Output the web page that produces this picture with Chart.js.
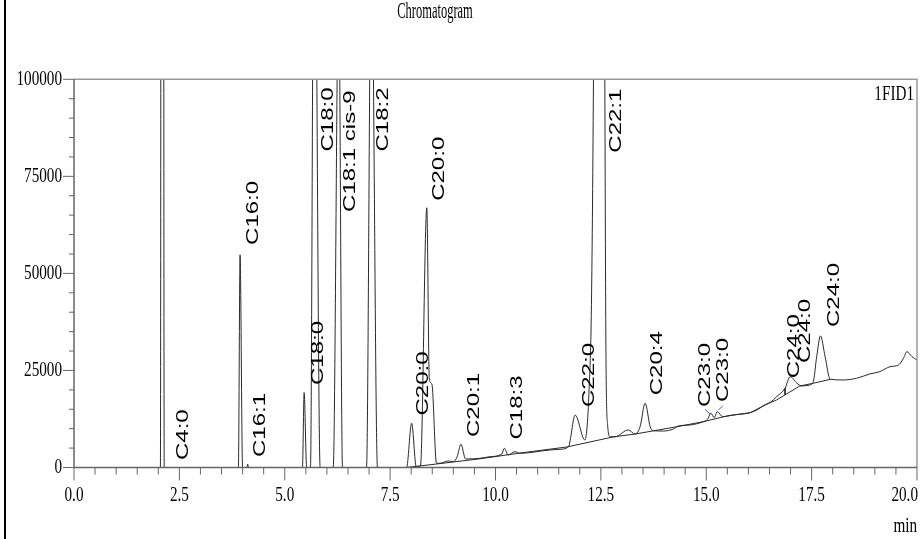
<!DOCTYPE html>
<html lang="en">
<head>
    <meta charset="UTF-8">
    <title>Chromatogram</title>
    <script src="https://cdn.jsdelivr.net/npm/chart.js@4"></script>
    <style>
        html, body { margin: 0; padding: 0; background: #fff; }
        .chart-box { position: relative; width: 921px; height: 539px; }
    </style>
</head>
<body>
    <div class="chart-box">
        <canvas id="chromChart" width="921" height="539"></canvas>
    </div>

    <script>
        // FID1 trace: retention time (min) and detector signal
        const traceTime = [
            0, 2.05, 2.095, 2.14, 3.90, 3.94, 4.00, 4.10, 4.12, 4.14,
            5.42, 5.46, 5.52, 5.61, 5.70, 5.84, 6.15, 6.28, 6.37,
            6.94, 7.055, 7.20, 7.89, 8.01, 8.12, 8.22, 8.37, 8.43, 8.49, 8.60,
            8.68, 8.88, 9.00, 9.09, 9.18, 9.29, 9.63, 9.87,
            10.15, 10.21, 10.30, 10.46, 10.58, 11.29, 11.53, 11.73, 11.89, 12.12,
            12.22, 12.28, 12.33, 12.46, 12.59, 12.62, 12.66, 12.72, 12.83,
            13.15, 13.31, 13.43, 13.55, 13.67, 13.74, 13.98, 14.22, 14.34, 14.61,
            14.93, 15.03, 15.11, 15.19, 15.26, 15.39, 15.64, 16.04, 16.20, 16.39,
            16.51, 16.67, 16.87, 16.99, 17.15, 17.26, 17.46, 17.54, 17.62, 17.71,
            17.82, 17.94, 18.25, 18.57, 18.88, 19.12, 19.36, 19.56, 19.68, 19.76,
            19.88, 20.0
        ];
        const traceSignal = [
            0, 0, 900000, 0, 0, 54800, 0, 0, 900, 0,
            0, 19300, 0, 0, 170000, 0, 0, 125000, 0,
            0, 138000, 0, 0, 11400, 200, 400, 66900, 22800, 21500, 1100,
            1080, 1680, 1500, 2780, 5980, 2190, 2370, 2780,
            3480, 4950, 3220, 4070, 3660, 4510, 4690, 5360, 13500, 7090,
            20000, 45000, 110000, 400000, 110000, 30000, 11000, 7900, 7900,
            9660, 8630, 10500, 16540, 10500, 9480, 9400, 9920, 10700, 10950,
            11800, 12400, 13970, 12830, 14380, 13090, 13530, 14120, 14820, 16100,
            16700, 18250, 20400, 23400, 21700, 21000, 21260, 22100, 28550, 33900,
            28550, 22730, 22550, 22990, 24100, 24700, 25970, 26400, 28140, 29840,
            28550, 27700
        ];

        // integration baseline
        const baseTime = [7.88, 8.60, 9.60, 10.60, 11.70, 12.80, 13.30, 13.75, 14.30,
            14.93, 15.50, 16.04, 16.43, 16.67, 16.99, 17.22, 17.54, 17.94];
        const baseSignal = [0, 900, 2200, 3750, 5300, 7900, 8600, 9450, 10500,
            11800, 13300, 14100, 16300, 17400, 19500, 21000, 21700, 22700];

        // drop line under the fronting C24:0 peak
        const dropTime = [16.87, 16.87];
        const dropSignal = [20400, 18700];

        // blue split marks between the two C23:0 peaks
        const markTime = [14.97, 15.09, null, 15.29, 15.39];
        const markSignal = [15000, 13790, null, 14820, 15850];

        // peak names, their retention time and the level the name starts at
        const peakNames = ['C4:0', 'C16:0', 'C16:1', 'C18:0', 'C18:0', 'C18:1 cis-9', 'C18:2',
            'C20:0', 'C20:0', 'C20:1', 'C18:3', 'C22:0', 'C22:1', 'C20:4',
            'C23:0', 'C23:0', 'C24:0', 'C24:0', 'C24:0'];
        const peakTimes = [2.59, 4.25, 4.41, 5.79, 6.03, 6.55, 7.35,
            8.30, 8.66, 9.49, 10.51, 12.22, 12.86, 13.83,
            14.97, 15.40, 17.08, 17.34, 18.03];
        const labelLevels = [1930, 57340, 2700, 21260, 81400, 65840, 81400,
            13400, 68700, 7860, 7220, 15590, 81100, 18600,
            15590, 16880, 23000, 26930, 36200];

        const xTickLabels = ['0.0', '2.5', '5.0', '7.5', '10.0', '12.5', '15.0', '17.5', '20.0'];
        const yTickLabels = ['0', '25000', '50000', '75000', '100000'];

        function pairs(xs, ys) {
            return xs.map((x, i) => (x === null ? { x: NaN, y: NaN } : { x: x, y: ys[i] }));
        }

        // narrow text, like the printed report fonts
        function narrowText(ctx, text, x, y, o) {
            ctx.save();
            ctx.translate(x, y);
            ctx.scale(o.squeeze, 1);
            if (o.rotate) ctx.rotate(-Math.PI / 2);
            ctx.font = o.font;
            ctx.textAlign = o.align;
            ctx.textBaseline = o.baseline;
            ctx.fillStyle = o.color || '#000';
            ctx.fillText(text, 0, 0);
            ctx.restore();
        }

        const tickFont = '22px "Liberation Serif"';

        const reportFrame = {
            id: 'reportFrame',
            afterDraw(chart) {
                const ctx = chart.ctx;
                const area = chart.chartArea;
                const xs = chart.scales.x;
                const ys = chart.scales.y;

                ctx.save();
                // page edge on the left
                ctx.fillStyle = '#000';
                ctx.fillRect(4, 0, 2, chart.height);

                // plot box
                ctx.lineWidth = 1.5;
                ctx.strokeStyle = '#9a9a9a';
                ctx.beginPath();
                ctx.moveTo(area.left, area.top);
                ctx.lineTo(area.right, area.top);
                ctx.lineTo(area.right, area.bottom);
                ctx.stroke();
                ctx.strokeStyle = '#666';
                ctx.beginPath();
                ctx.moveTo(area.left, area.top);
                ctx.lineTo(area.left, area.bottom);
                ctx.lineTo(area.right, area.bottom);
                ctx.stroke();

                // y ticks
                ctx.lineWidth = 1;
                const yVals = yTickLabels.map(Number);
                for (let i = 0; i < yVals.length; i++) {
                    const py = ys.getPixelForValue(yVals[i]);
                    ctx.beginPath();
                    ctx.moveTo(area.left - 11, py);
                    ctx.lineTo(area.left, py);
                    ctx.stroke();
                    narrowText(ctx, yTickLabels[i], area.left - 12, py, {
                        squeeze: 0.69, font: tickFont, align: 'right', baseline: 'middle'
                    });
                    if (i < yVals.length - 1) {
                        const step = (yVals[i + 1] - yVals[i]) / 5;
                        for (let k = 1; k < 5; k++) {
                            const my = ys.getPixelForValue(yVals[i] + k * step);
                            ctx.beginPath();
                            ctx.moveTo(area.left - 5, my);
                            ctx.lineTo(area.left, my);
                            ctx.stroke();
                        }
                    }
                }

                // x ticks
                const xVals = xTickLabels.map(Number);
                for (let i = 0; i < xVals.length; i++) {
                    const px = xs.getPixelForValue(xVals[i]);
                    ctx.beginPath();
                    ctx.moveTo(px, area.bottom);
                    ctx.lineTo(px, area.bottom + 13);
                    ctx.stroke();
                    // keep the last label inside the page
                    ctx.font = tickFont;
                    const half = ctx.measureText(xTickLabels[i]).width * 0.69 / 2;
                    const lx = Math.min(px, chart.width - 3 - half);
                    narrowText(ctx, xTickLabels[i], lx, area.bottom + 17, {
                        squeeze: 0.69, font: tickFont, align: 'center', baseline: 'top'
                    });
                    if (i < xVals.length - 1) {
                        const step = (xVals[i + 1] - xVals[i]) / 5;
                        for (let k = 1; k < 5; k++) {
                            const mx = xs.getPixelForValue(xVals[i] + k * step);
                            ctx.beginPath();
                            ctx.moveTo(mx, area.bottom);
                            ctx.lineTo(mx, area.bottom + 7);
                            ctx.stroke();
                        }
                    }
                }

                narrowText(ctx, 'min', area.right, chart.height - 2, {
                    squeeze: 0.69, font: tickFont, align: 'right', baseline: 'bottom'
                });
                narrowText(ctx, 'Chromatogram', 435, 12, {
                    squeeze: 0.52, font: '24px "Liberation Serif"', align: 'center', baseline: 'middle'
                });
                narrowText(ctx, '1FID1', area.right - 3, area.top + 15, {
                    squeeze: 0.69, font: tickFont, align: 'right', baseline: 'middle'
                });

                // peak names, written upwards
                for (let i = 0; i < peakNames.length; i++) {
                    narrowText(ctx, peakNames[i], xs.getPixelForValue(peakTimes[i]), ys.getPixelForValue(labelLevels[i]), {
                        squeeze: 0.7, rotate: true, font: '24px "Liberation Sans"', align: 'left', baseline: 'middle'
                    });
                }
                ctx.restore();
            }
        };

        const ctx = document.getElementById('chromChart');
        new Chart(ctx, {
            type: 'scatter',
            data: {
                datasets: [
                    {
                        label: 'FID1',
                        data: pairs(traceTime, traceSignal),
                        showLine: true,
                        borderColor: '#2a2a2a',
                        borderWidth: 1,
                        pointRadius: 0,
                        cubicInterpolationMode: 'monotone'
                    },
                    {
                        label: 'Baseline',
                        data: pairs(baseTime, baseSignal),
                        showLine: true,
                        borderColor: '#2a2a2a',
                        borderWidth: 1,
                        pointRadius: 0,
                        tension: 0
                    },
                    {
                        label: 'Drop',
                        data: pairs(dropTime, dropSignal),
                        showLine: true,
                        borderColor: '#2a2a2a',
                        borderWidth: 1,
                        pointRadius: 0
                    },
                    {
                        label: 'Marks',
                        data: pairs(markTime, markSignal),
                        showLine: true,
                        spanGaps: false,
                        borderColor: '#3a4fd8',
                        borderWidth: 1,
                        pointRadius: 0
                    }
                ]
            },
            options: {
                responsive: false,
                devicePixelRatio: 1,
                animation: false,
                events: [],
                layout: { padding: { left: 0, right: 4, top: 79.3, bottom: 0 } },
                plugins: {
                    legend: { display: false },
                    tooltip: { enabled: false }
                },
                scales: {
                    x: {
                        type: 'linear',
                        min: 0,
                        max: 20,
                        ticks: { display: false },
                        grid: { display: false },
                        border: { display: false },
                        afterFit: (s) => { s.height = 71.5; }
                    },
                    y: {
                        min: 0,
                        max: 100000,
                        ticks: { display: false },
                        grid: { display: false },
                        border: { display: false },
                        afterFit: (s) => { s.width = 74; }
                    }
                }
            },
            plugins: [reportFrame]
        });
    </script>
</body>
</html>
